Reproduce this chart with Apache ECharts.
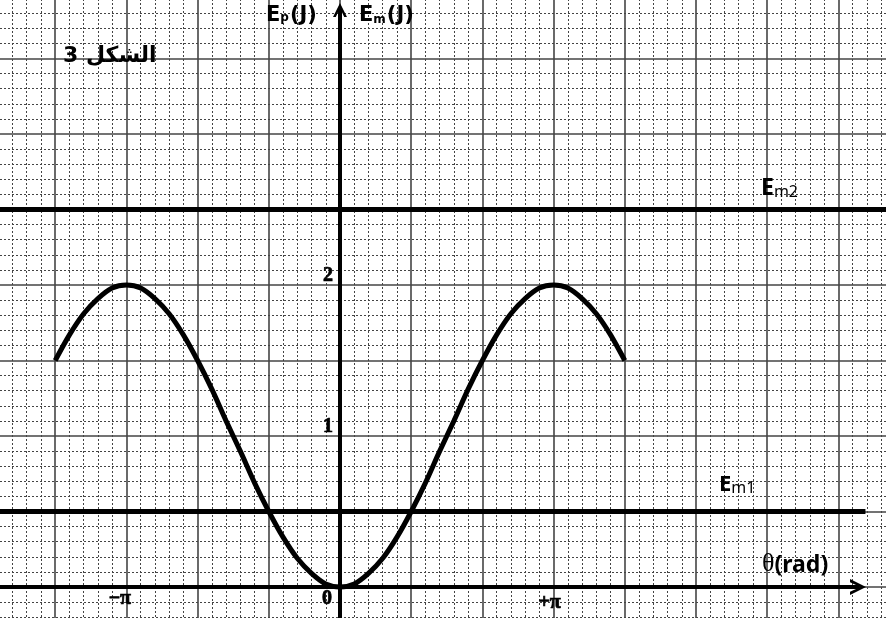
<!DOCTYPE html>
<html>
<head>
<meta charset="utf-8">
<script src="https://cdn.jsdelivr.net/npm/echarts@6/dist/echarts.min.js"></script>
<style>
  html, body { margin: 0; padding: 0; background: #fff; }
  #chart { width: 886px; height: 618px; }
</style>
</head>
<body>
<div id="chart"></div>
<script>
// θ measured in small squares of the paper: one square = π/15 rad
const thetaSteps = [-20, -19, -18, -17, -16, -15, -14, -13, -12, -11, -10, -9, -8, -7, -6, -5, -4, -3, -2, -1, 0,
                    1, 2, 3, 4, 5, 6, 7, 8, 9, 10, 11, 12, 13, 14, 15, 16, 17, 18, 19, 20];
// potential energy Ep (J) at each θ
const epValues = [1.50, 1.67, 1.81, 1.91, 1.98, 2.00, 1.98, 1.91, 1.81, 1.67, 1.50, 1.31, 1.10, 0.90, 0.69, 0.50, 0.33, 0.19, 0.09, 0.02, 0.00,
                  0.02, 0.09, 0.19, 0.33, 0.50, 0.69, 0.90, 1.10, 1.31, 1.50, 1.67, 1.81, 1.91, 1.98, 2.00, 1.98, 1.91, 1.81, 1.67, 1.50];
// mechanical energy levels (J)
const emNames = ['Em1', 'Em2'];
const emLevels = [0.5, 2.5];
// tick labels
const xTickValues = [-15, 0, 15];
const xTickLabels = ['−π', '0', '+π'];
const yTickValues = [1, 2];
const yTickLabels = ['1', '2'];

const chart = echarts.init(document.getElementById('chart'), null, { renderer: 'canvas' });

const chevron = 'path://M0,20 L10,0 L20,20 L16,20 L10,7 L4,20 Z';
const sans = '"DejaVu Sans", sans-serif';
const sans2 = '"Noto Sans", "DejaVu Sans", sans-serif';
const serif = '"Liberation Serif", "DejaVu Serif", serif';

const curveData = thetaSteps.map((t, i) => [t, epValues[i]]);
const emEnds = [36.9, 40];

const tickFont = {
  fontFamily: serif, fontWeight: 'bold', fontSize: 20, color: '#000',
  textBorderColor: '#000', textBorderWidth: 0.7
};

const option = {
  animation: false,
  backgroundColor: '#fff',
  grid: [
    // graph paper
    { left: -16, top: -17, width: 925.6, height: 679.5, outerBoundsMode: 'none' },
    // drawn axes with arrows (shifted onto the origin with offsets)
    { left: 0, top: 10, right: 28, bottom: 0, outerBoundsMode: 'none' }
  ],
  xAxis: [
    {
      gridIndex: 0, type: 'value', min: -25, max: 40, interval: 5,
      axisLine: { show: false }, axisTick: { show: false }, axisLabel: { show: false },
      splitLine: { show: true, lineStyle: { color: '#444', width: 1.6 } },
      minorTick: { show: false, splitNumber: 5 },
      minorSplitLine: { show: true, lineStyle: { color: '#444', width: 1, type: [2, 2] } }
    },
    {
      gridIndex: 1, type: 'value', min: -23.876, max: 36.376,
      position: 'bottom', offset: -31,
      axisLine: {
        show: true, onZero: false,
        symbol: ['none', chevron], symbolSize: [18, 16],
        lineStyle: { color: '#000', width: 4 }
      },
      axisTick: { show: false },
      splitLine: { show: false },
      axisLabel: {
        show: true, customValues: xTickValues, margin: 2,
        formatter: v => {
          const i = xTickValues.indexOf(v);
          if (i < 0) return '';
          return '{t' + i + '|' + xTickLabels[i] + '}';
        },
        rich: {
          t0: Object.assign({ padding: [0, 13, 0, 0] }, tickFont),
          t1: Object.assign({ padding: [0, 26, 0, 0] }, tickFont),
          t2: Object.assign({ padding: [4, 8, 0, 0] }, tickFont)
        }
      }
    }
  ],
  yAxis: [
    {
      gridIndex: 0, type: 'value', min: -0.5, max: 4, interval: 0.5,
      axisLine: { show: false }, axisTick: { show: false }, axisLabel: { show: false },
      splitLine: { show: true, lineStyle: { color: '#444', width: 1.6 } },
      minorTick: { show: false, splitNumber: 5 },
      minorSplitLine: { show: true, lineStyle: { color: '#444', width: 1, type: [2, 2] } }
    },
    {
      gridIndex: 1, type: 'value', min: -0.2053, max: 3.8212,
      position: 'left', offset: -340,
      axisLine: {
        show: true, onZero: false,
        symbol: ['none', chevron], symbolSize: [14, 16],
        lineStyle: { color: '#000', width: 4 }
      },
      axisTick: { show: false },
      splitLine: { show: false },
      axisLabel: Object.assign({
        show: true, customValues: yTickValues, margin: 7,
        verticalAlign: 'bottom', lineHeight: 19,
        formatter: v => {
          const i = yTickValues.indexOf(v);
          return i < 0 ? '' : yTickLabels[i];
        }
      }, tickFont)
    }
  ],
  series: [
    ...emLevels.map((lv, i) => ({
      name: emNames[i], type: 'line', xAxisIndex: 0, yAxisIndex: 0,
      data: [[-25, lv], [emEnds[i], lv]],
      symbol: 'none', silent: true,
      lineStyle: { color: '#000', width: 5 }, z: 4
    })),
    {
      name: 'Ep', type: 'line', xAxisIndex: 0, yAxisIndex: 0,
      data: curveData, symbol: 'none', smooth: 0.3,
      lineStyle: { color: '#000', width: 5 }, z: 5
    }
  ],
  graphic: [
    {
      type: 'text', left: 63, top: 45, z: 10,
      style: { text: '3 الشكل', font: 'bold 22px "DejaVu Sans", sans-serif', fill: '#000' }
    },
    {
      type: 'text', left: 266, top: 5, z: 10,
      style: {
        text: '{b|E}{s|p}{b|(J)}',
        rich: {
          b: { fontFamily: sans, fontWeight: 'bold', fontSize: 21, lineHeight: 28, verticalAlign: 'bottom', fill: '#000' },
          s: { fontFamily: sans, fontWeight: 'bold', fontSize: 12, lineHeight: 13, verticalAlign: 'bottom', padding: [0, 1, 2, 0], fill: '#000' }
        }
      }
    },
    {
      type: 'text', left: 359, top: 5, z: 10,
      style: {
        text: '{b|E}{s|m}{b|(J)}',
        rich: {
          b: { fontFamily: sans, fontWeight: 'bold', fontSize: 21, lineHeight: 28, verticalAlign: 'bottom', fill: '#000' },
          s: { fontFamily: sans, fontWeight: 'bold', fontSize: 12, lineHeight: 13, verticalAlign: 'bottom', padding: [0, 1, 0, 0], fill: '#000' }
        }
      }
    },
    {
      type: 'text', left: 761, top: 177, z: 10,
      style: {
        text: '{b|E}{s|m2}',
        rich: {
          b: { fontFamily: sans2, fontWeight: 'bold', fontSize: 23, lineHeight: 28, verticalAlign: 'bottom', fill: '#000' },
          s: { fontFamily: sans2, fontWeight: 'normal', fontSize: 16, lineHeight: 16, verticalAlign: 'bottom', padding: [0, 0, 0, 0], fill: '#000' }
        }
      }
    },
    {
      type: 'text', left: 719, top: 474, z: 10,
      style: {
        text: '{b|E}{s|m1}',
        rich: {
          b: { fontFamily: sans2, fontWeight: 'bold', fontSize: 22, lineHeight: 27, verticalAlign: 'bottom', fill: '#000' },
          s: { fontFamily: sans2, fontWeight: 'normal', fontSize: 16, lineHeight: 16, verticalAlign: 'bottom', padding: [0, 0, 0, 0], fill: '#000' }
        }
      }
    },
    {
      type: 'text', left: 762, top: 551, z: 10,
      style: {
        text: '{g|θ}{b|(rad)}',
        rich: {
          g: { fontFamily: serif, fontWeight: 'normal', fontSize: 26, lineHeight: 28, verticalAlign: 'bottom', fill: '#000' },
          b: { fontFamily: sans2, fontWeight: 'bold', fontSize: 23, lineHeight: 28, verticalAlign: 'bottom', fill: '#000' }
        }
      }
    }
  ]
};

chart.setOption(option);
</script>
</body>
</html>
